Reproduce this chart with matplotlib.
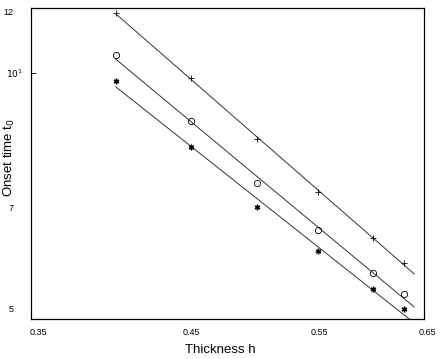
import numpy as np
import matplotlib
matplotlib.use('Agg')
import matplotlib.pyplot as plt

plt.rcParams['font.family'] = ['Liberation Sans', 'DejaVu Sans']

# thickness h and onset times for the three series
h = [0.40, 0.45, 0.50, 0.55, 0.60, 0.63]
t_plus = [11.84, 9.87, 8.30, 7.16, 6.28, 5.85]
t_circ = [10.52, 8.73, 7.34, 6.42, 5.70, 5.37]
t_star = [9.78, 8.12, 6.86, 6.06, 5.44, 5.14]
h_fit = [0.40, 0.64]

x_ticks = [0.35, 0.45, 0.55, 0.65]
y_ticks = [5, 7, 12]

fig = plt.figure(figsize=(4.43, 3.59), dpi=100)
ax = fig.add_axes([0.070, 0.1114, 0.887, 0.865])

lx = np.log10(h)
xf = np.log10(h_fit)
for t, m, ms in [(t_plus, '+', 5), (t_circ, 'o', 4.5), (t_star, (6, 2, 0), 4)]:
    p = np.polyfit(lx, np.log10(t), 1)
    ax.plot(h_fit, 10 ** np.polyval(p, xf), '-', color='#333333', lw=0.7)
    ax.plot(h, t, marker=m, ls='none', ms=ms, mfc='none',
            mec='k', mew=0.6 if m != (6, 2, 0) else 1.0)

ax.set_xscale('log')
ax.set_yscale('log')
ax.set_xlim(0.35, 0.65)
ax.set_ylim(5, 12)

ax.xaxis.set_major_locator(matplotlib.ticker.NullLocator())
ax.xaxis.set_minor_locator(matplotlib.ticker.NullLocator())
for v in x_ticks:
    xl = {0.35: 0.018, 0.45: 0.408, 0.55: 0.735, 0.65: 1.01}[v]
    ax.text(xl, -0.045, str(v), transform=ax.transAxes, fontsize=6.5,
            ha='center', va='center')

ax.yaxis.set_major_locator(matplotlib.ticker.FixedLocator([10]))
ax.yaxis.set_major_formatter(matplotlib.ticker.FixedFormatter(['$10^1$']))
ax.yaxis.set_minor_locator(matplotlib.ticker.NullLocator())
ax.tick_params(axis='y', which='major', direction='in', length=3.5, width=0.6,
               labelsize=6.5, pad=6)
for v in y_ticks:
    yl = {5: 0.03, 7: 0.355, 12: 0.988}[v]
    ax.text(-0.045, yl, str(v), transform=ax.transAxes, fontsize=6.5,
            ha='right', va='center')

for s in ax.spines.values():
    s.set_linewidth(0.9)

ax.set_xlabel('Thickness h', fontsize=9.5)
ax.set_ylabel('Onset time t$_0$', fontsize=9.5)
ax.xaxis.set_label_coords(0.483, -0.08)
ax.yaxis.set_label_coords(-0.035, 0.52)

fig.savefig('out.png', dpi=100)
